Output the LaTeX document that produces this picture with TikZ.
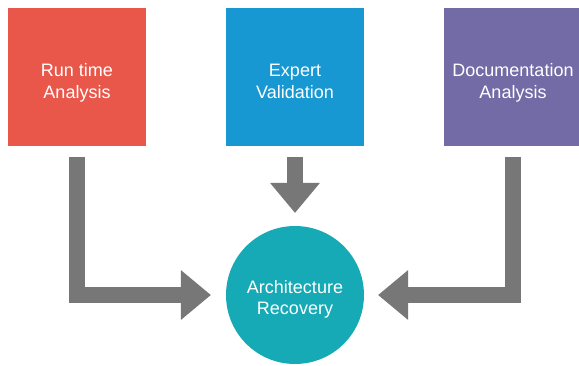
\documentclass[tikz,border=0pt]{standalone}
\usepackage{fontspec}
\setmainfont{Liberation Sans}
\usetikzlibrary{arrows.meta}
\definecolor{cred}{HTML}{E8574A}
\definecolor{cblue}{HTML}{1898D3}
\definecolor{cpurple}{HTML}{736BA6}
\definecolor{cteal}{HTML}{15AAB5}
\definecolor{cgray}{HTML}{777777}
\newcommand{\twolines}[3]{\raisebox{#3}[0pt][0pt]{\begin{tabular}{@{}c@{}}#1\\[0pt]#2\end{tabular}}}
\begin{document}
\begin{tikzpicture}[x=1pt,y=-1pt,
  box/.style={minimum width=138pt, minimum height=138pt, inner sep=0pt, text=white,
    font=\fontsize{18}{22}\selectfont},
  hub/.style={circle, minimum size=138pt, inner sep=0pt, fill=cteal, text=white,
    font=\fontsize{18}{21}\selectfont},
  conn/.style={draw=cgray, line width=16pt,
    -{Triangle[length=30pt,width=50pt,line width=0pt]}}]
\useasboundingbox (0,0) rectangle (579,365);
\node[box, fill=cred] (run) at (77,77) {\twolines{Run time}{Analysis}{-10.5pt}};
\node[box, fill=cblue] (exp) at (295,77) {\twolines{Expert}{Validation}{-10.5pt}};
\node[box, fill=cpurple] (doc) at (513,77) {\twolines{Documentation}{Analysis}{-10.5pt}};
\node[hub] (arc) at (295,295) {\twolines{Architecture}{Recovery}{-9.5pt}};
\draw[conn, shorten >=15pt] ([yshift=-11pt]run.south) |- (arc.west);
\draw[conn, shorten >=13pt] ([yshift=-11pt]exp.south) -- (arc.north);
\draw[conn, shorten >=14pt] ([yshift=-11pt]doc.south) |- (arc.east);
\end{tikzpicture}
\end{document}
